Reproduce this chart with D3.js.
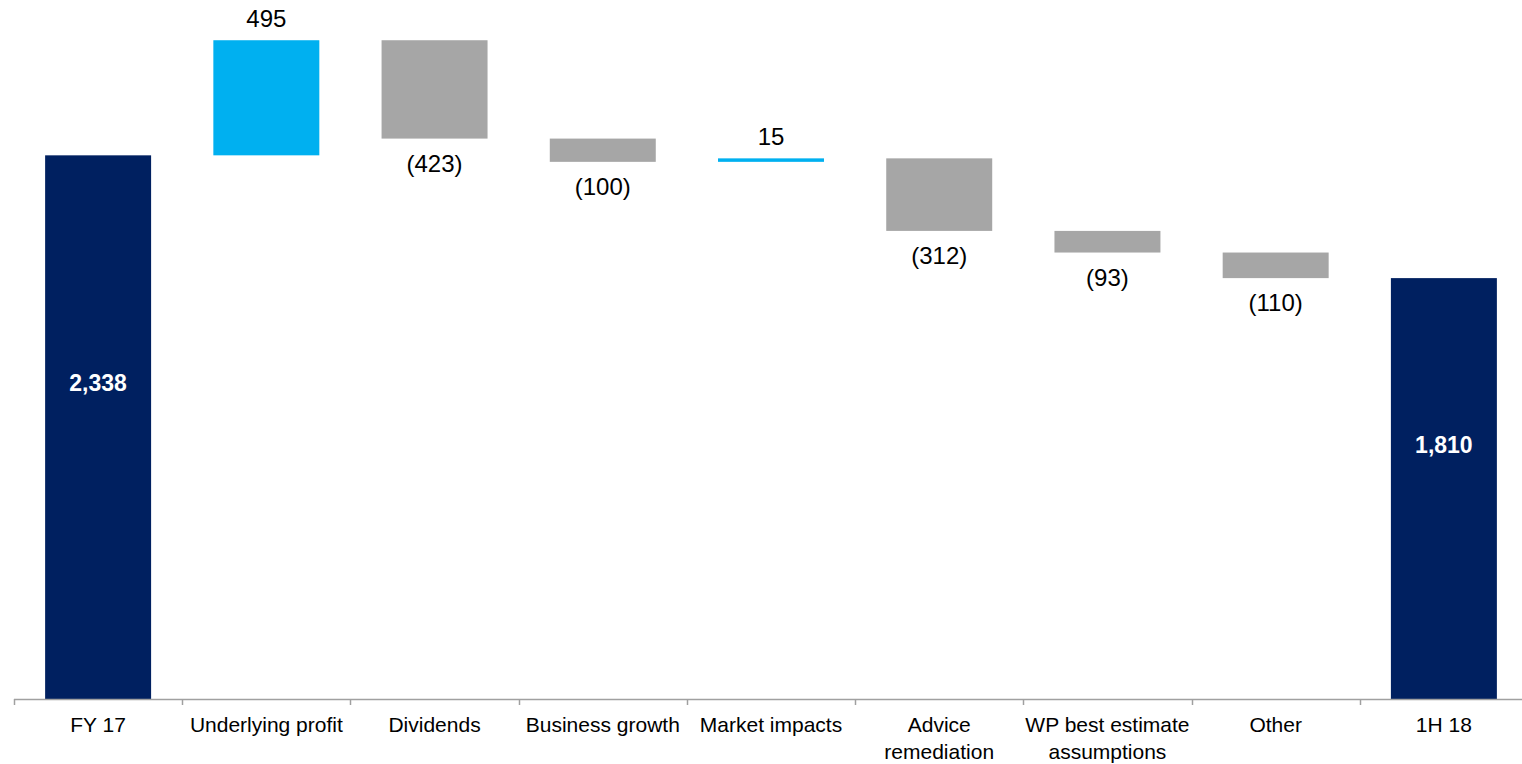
<!DOCTYPE html>
<html>
<head>
<meta charset="utf-8">
<script src="https://cdn.jsdelivr.net/npm/d3@7"></script>
<style>
  body { margin: 0; background: #fff; }
  text { font-family: "Liberation Sans", Arial, sans-serif; }
  .val-label { font-size: 24px; fill: #000; text-anchor: middle; }
  .tot-label { font-size: 23px; font-weight: bold; fill: #fff; text-anchor: middle; }
  .cat-label { font-size: 21px; fill: #000; text-anchor: middle; }
</style>
</head>
<body>
<div id="chart"></div>
<script>
/* Data ***********************************************************************/

var categories = ['FY 17', 'Underlying profit', 'Dividends', 'Business growth',
                  'Market impacts', 'Advice remediation', 'WP best estimate assumptions',
                  'Other', '1H 18'];

var cat_lines = [['FY 17'], ['Underlying profit'], ['Dividends'], ['Business growth'],
                 ['Market impacts'], ['Advice', 'remediation'], ['WP best estimate', 'assumptions'],
                 ['Other'], ['1H 18']];

var amounts = [2338, 495, -423, -100, 15, -312, -93, -110, 1810];

var kinds = ['total', 'delta', 'delta', 'delta', 'delta', 'delta', 'delta', 'delta', 'total'];

var value_labels = ['2,338', '495', '(423)', '(100)', '15', '(312)', '(93)', '(110)', '1,810'];

/* Build **********************************************************************/

function build_steps()
{
    let run = 0;
    return amounts.map((v, i) => {
        let s;
        if(kinds[i] == 'total') {
            s = { lo: 0, hi: v };
            run = v;
        } else {
            let next = run + v;
            s = { lo: Math.min(run, next), hi: Math.max(run, next) };
            run = next;
        }
        s.i = i;
        s.v = v;
        s.kind = kinds[i];
        return s;
    });
}

function build_plot()
{
    let width = 1522,
        height = 764,
        base_y = 699,
        bar_frac = 0.63;

    let colors = { total: '#002060', up: '#00B0F0', down: '#A6A6A6' };

    let svg = d3.select('#chart').append('svg')
        .attr('width', width)
        .attr('height', height);

    let steps = build_steps();

    let x = d3.scaleBand()
        .domain(categories)
        .range([14, 1528])
        .padding(0);

    let y = d3.scaleLinear()
        .domain([0, 3006])
        .range([base_y, 0]);

    let bw = x.bandwidth() * bar_frac,
        bx = (d) => x(categories[d.i]) + (x.bandwidth() - bw) / 2,
        bc = (d) => x(categories[d.i]) + x.bandwidth() / 2;

    // bars
    svg.append('g').selectAll('rect').data(steps).enter()
        .append('rect')
        .attr('x', bx)
        .attr('width', bw)
        .attr('y', (d) => y(d.hi))
        .attr('height', (d) => Math.max(3, y(d.lo) - y(d.hi)))
        .attr('fill', (d) => d.kind == 'total' ? colors.total : (d.v >= 0 ? colors.up : colors.down));

    // value labels
    let labels = svg.append('g');

    labels.selectAll('text.val-label').data(steps.filter((d) => d.kind == 'delta')).enter()
        .append('text')
        .attr('class', 'val-label')
        .attr('x', bc)
        .attr('y', (d) => d.v >= 0 ? y(d.hi) - 13 : y(d.lo) + 33)
        .text((d) => value_labels[d.i]);

    labels.selectAll('text.tot-label').data(steps.filter((d) => d.kind == 'total')).enter()
        .append('text')
        .attr('class', 'tot-label')
        .attr('x', bc)
        .attr('y', (d) => y(d.v / 2) - 36)
        .text((d) => value_labels[d.i]);

    // axis line and tics
    let axis = svg.append('g');

    axis.append('line')
        .attr('x1', x.range()[0]).attr('x2', width)
        .attr('y1', base_y + 0.5).attr('y2', base_y + 0.5)
        .attr('stroke', '#A0A0A0')
        .attr('stroke-width', 1.5);

    axis.selectAll('line.tic').data(categories).enter()
        .append('line')
        .attr('class', 'tic')
        .attr('x1', (c) => Math.round(x(c)) + 0.5)
        .attr('x2', (c) => Math.round(x(c)) + 0.5)
        .attr('y1', base_y)
        .attr('y2', base_y + 6)
        .attr('stroke', '#A0A0A0')
        .attr('stroke-width', 1.5);

    // category labels
    let cats = axis.selectAll('text.cat-label').data(categories).enter()
        .append('text')
        .attr('class', 'cat-label')
        .attr('x', (c) => x(c) + x.bandwidth() / 2)
        .attr('y', 732);

    cats.selectAll('tspan').data((c, i) => cat_lines[i]).enter()
        .append('tspan')
        .attr('x', function() { return d3.select(this.parentNode).attr('x'); })
        .attr('dy', (t, j) => j == 0 ? 0 : 27)
        .text((t) => t);
}

build_plot();
</script>
</body>
</html>
